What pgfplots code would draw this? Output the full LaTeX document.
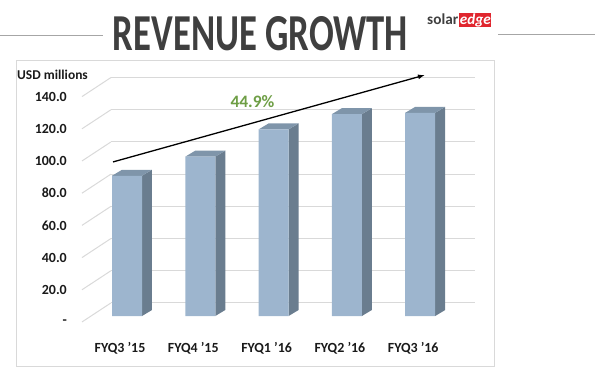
\documentclass[border=0pt]{standalone}
\usepackage{pgfplots}
\pgfplotsset{compat=1.18}
\usepackage{graphicx}
\usepackage{fontspec}
\setmainfont{Carlito}
\usetikzlibrary{arrows.meta}
\definecolor{barfront}{HTML}{9DB5CE}
\definecolor{barside}{HTML}{6A7D8F}
\definecolor{bartop}{HTML}{7F95AA}
\definecolor{gridc}{HTML}{D9D9D9}
\definecolor{titlec}{HTML}{3F3F3F}
\definecolor{greenc}{HTML}{6E9E45}
\definecolor{logored}{HTML}{E0262E}
\definecolor{labc}{HTML}{1A1A1A}
\begin{document}
\begin{tikzpicture}[x=1bp,y=1bp]
\path[use as bounding box] (0,0) rectangle (600,385);
% header
\draw[gray!70, line width=0.8bp] (0,350) -- (103,350);
\draw[gray!70, line width=0.8bp] (498,351) -- (595,351);
\node[text=titlec, inner sep=0] at (260.5,351) {\resizebox{295bp}{34bp}{\bfseries REVENUE GROWTH}};
\node[anchor=west, inner sep=0, text=titlec] at (427,366) {\resizebox{31bp}{!}{\bfseries solar}};
\node[anchor=west, fill=logored, text=white, inner sep=0.6bp, minimum height=13bp] at (459,365) {\resizebox{31bp}{!}{\bfseries\itshape edge}};
% frame
\draw[gridc, line width=1bp] (16,19) rectangle (494,325);
\node[anchor=west, inner sep=0, text=labc] at (17,310) {\fontsize{13.5}{14}\selectfont\bfseries USD millions};
\begin{axis}[
  at={(53.7bp,52.9bp)}, anchor=south west,
  scale only axis, width=439.8bp, height=260.8bp,
  xmin=-1, xmax=5, ymin=-10, ymax=152,
  clip=false,
  axis line style={draw=none},
  tick style={draw=none},
  unbounded coords=jump,
  xtick={0,1,2,3,4},
  xticklabels={FYQ3 '15, FYQ4 '15, FYQ1 '16, FYQ2 '16, FYQ3 '16},
  xticklabel style={anchor=center, xshift=-7bp, yshift=-16bp, inner sep=0, text=labc, font=\fontsize{14}{15}\selectfont\bfseries},
  ytick={0,20,40,60,80,100,120,140},
  yticklabels={-, 20.0, 40.0, 60.0, 80.0, 100.0, 120.0, 140.0},
  yticklabel style={anchor=east, inner sep=0, xshift=13.3bp, yshift=-6bp, text=labc, font=\fontsize{14}{15}\selectfont\bfseries},
]
% back wall gridlines
\addplot[gridc, line width=1bp] coordinates {
 (-0.22,8.1) (4.75,8.1) (nan,nan)
 (-0.22,28.1) (4.75,28.1) (nan,nan)
 (-0.22,48.1) (4.75,48.1) (nan,nan)
 (-0.22,68.1) (4.75,68.1) (nan,nan)
 (-0.22,88.1) (4.75,88.1) (nan,nan)
 (-0.22,108.1) (4.75,108.1) (nan,nan)
 (-0.22,128.1) (4.75,128.1) (nan,nan)
 (-0.22,148.1) (4.75,148.1)};
% side wall lines
\addplot[gridc, line width=1bp] coordinates {
 (-0.614,-3.7) (-0.22,8.1) (nan,nan)
 (-0.614,16.3) (-0.22,28.1) (nan,nan)
 (-0.614,36.3) (-0.22,48.1) (nan,nan)
 (-0.614,56.3) (-0.22,68.1) (nan,nan)
 (-0.614,76.3) (-0.22,88.1) (nan,nan)
 (-0.614,96.3) (-0.22,108.1) (nan,nan)
 (-0.614,116.3) (-0.22,128.1) (nan,nan)
 (-0.614,136.3) (-0.22,148.1)};
% bar side faces
\addplot[fill=barside, draw=none] coordinates {(0.2046,0) (0.2046,87.1) (0.341,90.83) (0.341,3.73)};
\addplot[fill=barside, draw=none] coordinates {(1.2046,0) (1.2046,99.0) (1.341,102.73) (1.341,3.73)};
\addplot[fill=barside, draw=none] coordinates {(2.2046,0) (2.2046,115.9) (2.341,119.63) (2.341,3.73)};
\addplot[fill=barside, draw=none] coordinates {(3.2046,0) (3.2046,125.4) (3.341,129.13) (3.341,3.73)};
\addplot[fill=barside, draw=none] coordinates {(4.2046,0) (4.2046,126.2) (4.341,129.93) (4.341,3.73)};
% bar top faces
\addplot[fill=bartop, draw=none] coordinates {(-0.2046,87.1) (0.2046,87.1) (0.341,90.83) (-0.0682,90.83)};
\addplot[fill=bartop, draw=none] coordinates {(0.7954,99.0) (1.2046,99.0) (1.341,102.73) (0.9318,102.73)};
\addplot[fill=bartop, draw=none] coordinates {(1.7954,115.9) (2.2046,115.9) (2.341,119.63) (1.9318,119.63)};
\addplot[fill=bartop, draw=none] coordinates {(2.7954,125.4) (3.2046,125.4) (3.341,129.13) (2.9318,129.13)};
\addplot[fill=bartop, draw=none] coordinates {(3.7954,126.2) (4.2046,126.2) (4.341,129.93) (3.9318,129.93)};
% bar fronts
\addplot[ybar, bar width=30bp, fill=barfront, draw=none] coordinates {(0,87.1) (1,99.0) (2,115.9) (3,125.4) (4,126.2)};
% growth arrow
\addplot[black, line width=1.3bp, -{Latex[length=7bp,width=5bp]}] coordinates {(-0.191,95.7) (4.065,149.7)};
\node[text=greenc, inner sep=0] at (axis cs:1.712,133.1) {\fontsize{17.5}{18}\selectfont\bfseries 44.9\%};
\end{axis}
\end{tikzpicture}
\end{document}
